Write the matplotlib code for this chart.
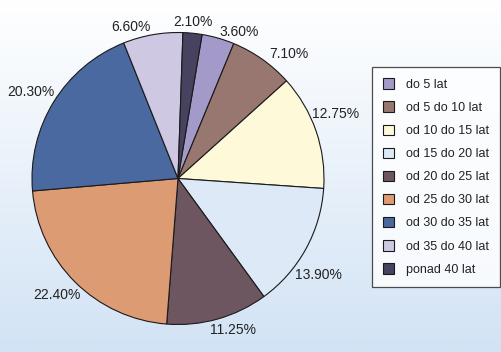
import numpy as np
import matplotlib
matplotlib.use("Agg")
import matplotlib.pyplot as plt

plt.rcParams['font.family'] = ['Liberation Sans', 'DejaVu Sans']

categories = ["do 5 lat", "od 5 do 10 lat", "od 10 do 15 lat", "od 15 do 20 lat",
              "od 20 do 25 lat", "od 25 do 30 lat", "od 30 do 35 lat",
              "od 35 do 40 lat", "ponad 40 lat"]
values = [3.60, 7.10, 12.75, 13.90, 11.25, 22.40, 20.30, 6.60, 2.10]
pct_labels = ["3.60%", "7.10%", "12.75%", "13.90%", "11.25%", "22.40%",
              "20.30%", "6.60%", "2.10%"]
colors = ["#a49ac9", "#987770", "#fdf9d9", "#dde9f7", "#6e5661",
          "#dd9b74", "#4a69a0", "#cfc8e3", "#46425f"]
# label positions (in pie-radius units)
label_pos = [(0.42, 1.00), (0.76, 0.85), (1.08, 0.44), (0.96, -0.66),
             (0.38, -1.04), (-0.83, -0.80), (-1.01, 0.59), (-0.32, 1.04),
             (0.10, 1.07)]

W, H = 502, 352
fig = plt.figure(figsize=(W / 100, H / 100), dpi=100)

# background gradient
bg = fig.add_axes([0, 0, 1, 1])
grad = np.linspace(0, 1, 256)[:, None]
c_top = np.array([1.0, 1.0, 1.0])
c_bot = np.array([210, 227, 245]) / 255
img = c_top[None, None, :] * (1 - grad[:, :, None]) + c_bot[None, None, :] * grad[:, :, None]
bg.imshow(img, aspect='auto', extent=[0, 1, 0, 1])
bg.set_axis_off()

cx, cy, R = 178, 178.5, 146
ax = fig.add_axes([(cx - R) / W, (H - cy - R) / H, 2 * R / W, 2 * R / H])
wedges, texts = ax.pie(values, colors=colors, startangle=80.5, counterclock=False,
                       labels=pct_labels, radius=1,
                       wedgeprops=dict(edgecolor='#1a1a1a', linewidth=0.8),
                       textprops=dict(fontsize=10, color='#222222'))
for t, (x, y) in zip(texts, label_pos):
    t.set_position((x, y))
    t.set_ha('center')
    t.set_va('center')
ax.set_xlim(-1, 1)
ax.set_ylim(-1, 1)
ax.set_aspect('equal')
ax.set_axis_off()

leg = fig.legend(wedges, categories, loc='upper left',
                 bbox_to_anchor=(372 / W, 1 - 67 / H), borderaxespad=0,
                 fontsize=9, frameon=True, fancybox=False, edgecolor='#222222',
                 handlelength=0.9, handleheight=0.9, labelspacing=0.85,
                 handletextpad=0.9, borderpad=0.9)
leg.get_frame().set_linewidth(0.9)
for txt in leg.get_texts():
    txt.set_color('#222222')

fig.savefig("out.png", dpi=100)
